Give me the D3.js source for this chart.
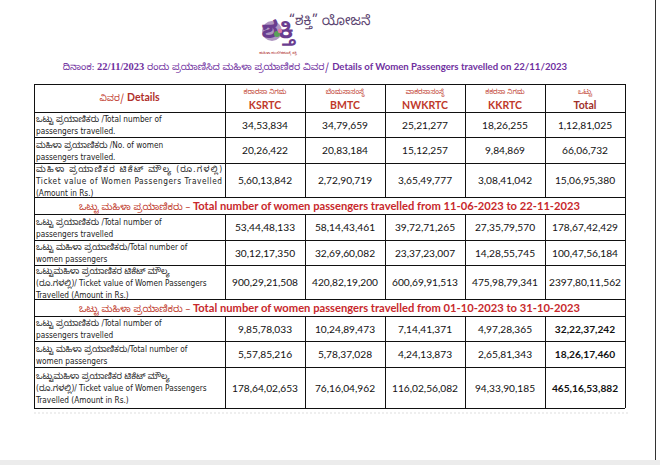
<!DOCTYPE html>
<html>
<head>
<meta charset="utf-8">
<script src="https://cdn.jsdelivr.net/npm/d3@7"></script>
<style>
  body { margin: 0; background: #fff; }
  svg { display: block; }
</style>
</head>
<body>
<svg id="chart" width="660" height="465"></svg>
<script>
// columns of the table
const corps = ["KSRTC", "BMTC", "NWKRTC", "KKRTC", "Total"];
const corpsKn = ["ಕರಾರಸಾ ನಿಗಮ", "ಬೆಂಮಸಾಸಂಸ್ಥೆ", "ವಾಕರಸಾಸಂಸ್ಥೆ", "ಕಕರಸಾ ನಿಗಮ", "ಒಟ್ಟು"];

// 22/11/2023
const dayTotal   = [3453834, 3479659, 2521277, 1826255, 11281025];
const dayWomen   = [2026422, 2083184, 1512257, 984869, 6606732];
const dayTicket  = [56013842, 27290719, 36549777, 30841042, 150695380];
// 11-06-2023 to 22-11-2023
const cumTotal   = [534448133, 581443461, 397271265, 273579570, 1786742429];
const cumWomen   = [301217350, 326960082, 233723007, 142855745, 1004756184];
const cumTicket  = [9002921508, 4208219200, 6006991513, 4759879341, 23978011562];
// 01-10-2023 to 31-10-2023
const octTotal   = [98578033, 102489473, 71441371, 49728365, 322237242];
const octWomen   = [55785216, 57837028, 42413873, 26581343, 182617460];
const octTicket  = [1786402653, 761604962, 1160256082, 943390185, 4651653882];

const dayLabels = [
  ["ಒಟ್ಟು ಪ್ರಯಾಣಿಕರು /Total number of", "passengers travelled."],
  ["ಮಹಿಳಾ ಪ್ರಯಾಣಿಕರು /No. of women", "passengers travelled."],
  ["ಮಹಿಳಾ ಪ್ರಯಾಣಿಕರ ಟಿಕೆಟ್ ಮೌಲ್ಯ (ರೂ.ಗಳಲ್ಲಿ)", "Ticket value of Women Passengers Travelled", "(Amount in Rs.)"]
];
const periodLabels = [
  ["ಒಟ್ಟು ಪ್ರಯಾಣಿಕರು /Total number of", "passengers travelled"],
  ["ಒಟ್ಟು ಮಹಿಳಾ ಪ್ರಯಾಣಿಕರು/Total number of", "women passengers"],
  ["ಒಟ್ಟುಮಹಿಳಾ ಪ್ರಯಾಣಿಕರ ಟಿಕೆಟ್ ಮೌಲ್ಯ", "(ರೂ.ಗಳಲ್ಲಿ)/ Ticket value of Women Passengers", "Travelled (Amount in Rs.)"]
];
const sectionKn = "ಒಟ್ಟು ಮಹಿಳಾ ಪ್ರಯಾಣಿಕರು";
const sectionEn = ["Total number of women passengers travelled from 11-06-2023 to 22-11-2023",
                   "Total number of women passengers travelled from 01-10-2023 to 31-10-2023"];

const titleKn = ["ದಿನಾಂಕ: ", "22/11/2023", " ರಂದು ಪ್ರಯಾಣಿಸಿದ ಮಹಿಳಾ ಪ್ರಯಾಣಿಕರ ವಿವರ/ "];
const titleEn = "Details of Women Passengers travelled on 22/11/2023";

// indian style grouping as printed: xxx,xx,xx,xxx
function fmt(n) {
  let s = String(n);
  let last = s.slice(-3); s = s.slice(0, -3);
  const parts = [];
  for (let i = 0; i < 2 && s.length > 2; i++) { parts.unshift(s.slice(-2)); s = s.slice(0, -2); }
  if (s.length) parts.unshift(s);
  parts.push(last);
  return parts.join(",");
}

const rows = [
  {type: "head"},
  {type: "data", label: dayLabels[0], vals: dayTotal, h: 25},
  {type: "data", label: dayLabels[1], vals: dayWomen, h: 26},
  {type: "data", label: dayLabels[2], vals: dayTicket, h: 34, justify: true},
  {type: "sec", text: sectionEn[0]},
  {type: "data", label: periodLabels[0], vals: cumTotal, h: 26},
  {type: "data", label: periodLabels[1], vals: cumWomen, h: 25},
  {type: "data", label: periodLabels[2], vals: cumTicket, h: 34},
  {type: "sec", text: sectionEn[1]},
  {type: "data", label: periodLabels[0], vals: octTotal, h: 25, bold: true},
  {type: "data", label: periodLabels[1], vals: octWomen, h: 26, bold: true},
  {type: "data", label: periodLabels[2], vals: octTicket, h: 41, bold: true}
];
rows[0].h = 28; rows[4].h = 17; rows[8].h = 17;

const svg = d3.select("#chart");
const tLeft = 34, labelW = 191, tRight = 625, tTop = 84;
const x = d3.scaleBand().domain(corps).range([tLeft + labelW, tRight]);
let acc = tTop;
rows.forEach(r => { r.y = acc; acc += r.h; });
const tBottom = acc;

const numFont = "Lato, 'Open Sans', sans-serif";
const lblFont = "'DejaVu Sans Condensed', 'DejaVu Sans', sans-serif";
const kn = "'Noto Sans Kannada', 'Lohit Kannada', 'Noto Sans', sans-serif";
const isKn = s => /[\u0C80-\u0CFF]/.test(s);

// page frame
svg.append("rect").attr("x", 0).attr("y", 460).attr("width", 660).attr("height", 5).attr("fill", "#ececec");
svg.append("line").attr("x1", 655.5).attr("x2", 655.5).attr("y1", 0).attr("y2", 460)
  .attr("stroke", "#333").attr("stroke-width", 1);

// logo
const logo = svg.append("g").attr("transform", "translate(258,6)");
logo.append("circle").attr("cx", 14).attr("cy", 25).attr("r", 10).attr("fill", "#8e6aa8").attr("opacity", 0.7);
const big = logo.append("text").attr("x", 20).attr("y", 32).attr("text-anchor", "middle")
  .attr("font-family", kn).attr("font-size", 24).attr("font-weight", "bold").attr("fill", "#6a3d8f").text("ಶಕ್ತಿ");
logo.append("circle").attr("cx", 19).attr("cy", 28).attr("r", 3).attr("fill", "#5aa05a");
logo.append("circle").attr("cx", 22).attr("cy", 25).attr("r", 2.2).attr("fill", "#e07aa0");
const bb = big.node().getBBox();
logo.append("text").attr("x", 20).attr("y", Math.max(44, bb.y + bb.height + 3.2)).attr("text-anchor", "middle")
  .attr("font-family", kn).attr("font-size", 3.6).attr("fill", "#b03030").text("ಮಹಿಳಾ ಸಬಲೀಕರಣಕ್ಕೆ ಶಕ್ತಿ");
svg.append("text").attr("x", 289).attr("y", 25).attr("font-family", kn).attr("font-size", 13.5)
  .attr("fill", "#5b4470").text("“ಶಕ್ತಿ” ಯೋಜನೆ");

// title
const title = svg.append("text").attr("x", 315).attr("y", 70).attr("text-anchor", "middle")
  .attr("fill", "#7030a0");
title.append("tspan").attr("font-family", kn).attr("font-size", 9.5).text(titleKn[0]);
title.append("tspan").attr("font-family", "'Liberation Serif', 'DejaVu Serif', serif").attr("font-weight", "bold")
  .attr("font-size", 10.5).text(titleKn[1]);
title.append("tspan").attr("font-family", kn).attr("font-size", 9.5).text(titleKn[2]);
title.append("tspan").attr("font-family", numFont).attr("font-weight", "bold").attr("font-size", 9.6).text(titleEn);

const g = svg.append("g");

rows.forEach(r => {
  if (r.type === "head") {
    const t = g.append("text").attr("x", (tLeft + tLeft + labelW) / 2).attr("y", r.y + 17)
      .attr("text-anchor", "middle").attr("font-size", 10.5);
    t.append("tspan").attr("font-family", kn).attr("fill", "#c0392b").attr("font-size", 9).text("ವಿವರ/ ");
    t.append("tspan").attr("font-family", numFont).attr("font-weight", "bold").attr("fill", "#b0302a").text("Details");
    corps.forEach((c, i) => {
      const cx = x(c) + x.bandwidth() / 2;
      g.append("text").attr("x", cx).attr("y", r.y + 9.5).attr("text-anchor", "middle")
        .attr("font-family", kn).attr("font-size", 6.8).attr("fill", "#c0392b").text(corpsKn[i]);
      g.append("text").attr("x", cx).attr("y", r.y + 24.5).attr("text-anchor", "middle")
        .attr("font-family", numFont).attr("font-weight", "bold").attr("font-size", 10.5)
        .attr("fill", i === 4 ? "#a0302a" : "#c0392b").text(c);
    });
  } else if (r.type === "sec") {
    const t = g.append("text").attr("x", (tLeft + tRight) / 2).attr("y", r.y + 12.5)
      .attr("text-anchor", "middle").attr("font-size", 11.2);
    t.append("tspan").attr("font-family", kn).attr("font-size", 9.5).attr("fill", "#c0392b").text(sectionKn + " – ");
    t.append("tspan").attr("font-family", numFont).attr("font-weight", "bold").attr("fill", "#c8282c").text(r.text);
  } else {
    const n = r.label.length;
    const lh = 12;
    const y0 = r.y + r.h / 2 - (n - 1) * lh / 2 + 3.5;
    r.label.forEach((line, j) => {
      const t = g.append("text").attr("x", tLeft + 2).attr("y", y0 + j * lh)
        .attr("font-family", lblFont).attr("font-size", 8.2).attr("fill", "#222");
      line.split(/([\u0C80-\u0CFF\u200C\u200D]+(?:[ .]+[\u0C80-\u0CFF\u200C\u200D]+)*)/).filter(s => s)
        .forEach(s => {
          const sp = t.append("tspan").text(s);
          if (isKn(s)) sp.attr("font-family", kn).attr("font-size", 8.4);
        });
      if (r.justify && j < n - 1) t.attr("textLength", labelW - 5).attr("lengthAdjust", "spacing");
    });
    r.vals.forEach((v, i) => {
      g.append("text").attr("x", x(corps[i]) + x.bandwidth() / 2).attr("y", r.y + r.h / 2 + 4)
        .attr("text-anchor", "middle").attr("font-family", numFont).attr("font-size", 10.2)
        .attr("font-weight", r.bold && i === 4 ? "bold" : "normal").attr("fill", "#111").text(fmt(v));
    });
  }
});

// grid lines
const line = (x1, y1, x2, y2) => g.append("line").attr("x1", x1).attr("y1", y1).attr("x2", x2).attr("y2", y2)
  .attr("stroke", "#111").attr("stroke-width", 1).attr("shape-rendering", "crispEdges");
rows.forEach(r => line(tLeft, r.y, tRight, r.y));
line(tLeft, tBottom, tRight, tBottom);
line(tLeft, tTop, tLeft, tBottom);
line(tRight, tTop, tRight, tBottom);
rows.forEach(r => {
  if (r.type === "sec") return;
  corps.forEach(c => line(x(c), r.y, x(c), r.y + r.h));
});
// faint shadow line under table
svg.append("line").attr("x1", tLeft).attr("x2", tRight + 4).attr("y1", tBottom + 5).attr("y2", tBottom + 5)
  .attr("stroke", "#ddd").attr("stroke-dasharray", "2,2");
</script>
</body>
</html>
